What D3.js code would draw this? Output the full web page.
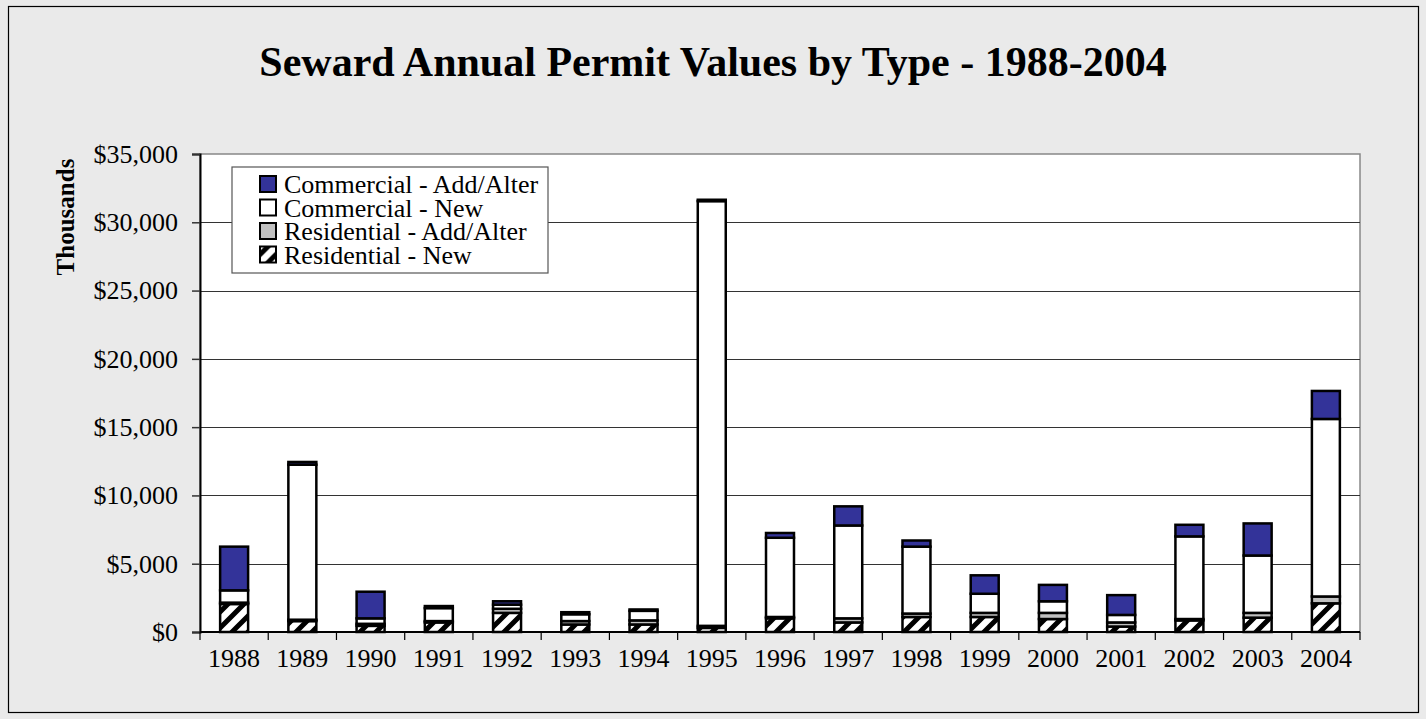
<!DOCTYPE html>
<html>
<head>
<meta charset="utf-8">
<script src="https://cdn.jsdelivr.net/npm/d3@7"></script>
<style>
  html, body { margin: 0; padding: 0; background: #eaeaea; }
  svg { display: block; }
</style>
</head>
<body>
<div id="chart"></div>
<script>
const width = 1426;
const height = 719;

// values in $ thousands
const years = ["1988", "1989", "1990", "1991", "1992", "1993", "1994", "1995", "1996",
  "1997", "1998", "1999", "2000", "2001", "2002", "2003", "2004"];
const resNew = [2050, 800, 450, 700, 1400, 550, 550, 300, 1000, 700, 1100, 1100, 950, 400, 850, 1050, 2100];
const resAdd = [100, 100, 150, 100, 300, 250, 300, 150, 100, 300, 250, 300, 450, 300, 100, 350, 500];
const comNew = [900, 11350, 400, 950, 300, 500, 700, 31100, 5800, 6800, 4900, 1400, 850, 550, 6050, 4200, 13000];
const comAdd = [3200, 200, 1950, 150, 250, 150, 100, 100, 350, 1400, 450, 1350, 1200, 1450, 850, 2350, 2050];
const yTicks = [0, 5000, 10000, 15000, 20000, 25000, 30000, 35000];

const series = [
  { key: "resNew", name: "Residential - New", fill: "url(#hatch)", values: resNew },
  { key: "resAdd", name: "Residential - Add/Alter", fill: "#c0c0c0", values: resAdd },
  { key: "comNew", name: "Commercial - New", fill: "#ffffff", values: comNew },
  { key: "comAdd", name: "Commercial - Add/Alter", fill: "#333399", values: comAdd }
];

const table = years.map((y, i) => {
  const row = { year: y };
  series.forEach(s => { row[s.key] = s.values[i]; });
  return row;
});

const stacked = d3.stack().keys(series.map(s => s.key))(table);

const margin = { top: 154, right: 66, bottom: 87, left: 200 };
const font = "'Liberation Serif', 'Times New Roman', serif";

const svg = d3.select("#chart")
  .append("svg")
  .attr("width", width)
  .attr("height", height);

const defs = svg.append("defs");
const pat = defs.append("pattern")
  .attr("id", "hatch")
  .attr("patternUnits", "userSpaceOnUse")
  .attr("width", 16)
  .attr("height", 16);
pat.append("rect").attr("width", 16).attr("height", 16).attr("fill", "#fff");
pat.append("path")
  .attr("d", "M-4,4 L4,-4 M0,16 L16,0 M12,20 L20,12")
  .attr("stroke", "#000")
  .attr("stroke-width", 5);

// outer frame
svg.append("rect")
  .attr("x", 8.5).attr("y", 6.5)
  .attr("width", 1410).attr("height", 706)
  .attr("fill", "#eaeaea")
  .attr("stroke", "#000")
  .attr("stroke-width", 1.2);

svg.append("text")
  .attr("x", 713)
  .attr("y", 76)
  .attr("text-anchor", "middle")
  .style("font-family", font)
  .style("font-weight", "bold")
  .style("font-size", "42px")
  .text("Seward Annual Permit Values by Type - 1988-2004");

const x = d3.scaleBand()
  .domain(years)
  .range([margin.left, width - margin.right])
  .paddingInner(0.59)
  .paddingOuter(0.295);

const y = d3.scaleLinear()
  .domain([0, 35000])
  .range([height - margin.bottom, margin.top]);

// plot area
svg.append("rect")
  .attr("x", margin.left)
  .attr("y", margin.top)
  .attr("width", width - margin.right - margin.left)
  .attr("height", y(0) - margin.top)
  .attr("fill", "#fff")
  .attr("stroke", "#888")
  .attr("stroke-width", 1.5);

// gridlines
svg.append("g")
  .selectAll("line")
  .data(yTicks.filter(d => d > 0 && d < 35000))
  .join("line")
  .attr("x1", margin.left)
  .attr("x2", width - margin.right)
  .attr("y1", d => Math.round(y(d)) + 0.5)
  .attr("y2", d => Math.round(y(d)) + 0.5)
  .attr("stroke", "#333")
  .attr("stroke-width", 1.2);

// y axis
const yAxis = svg.append("g")
  .attr("transform", `translate(${margin.left},0)`)
  .call(d3.axisLeft(y).tickValues(yTicks).tickSize(8).tickPadding(14)
    .tickFormat(d => "$" + d3.format(",")(d)));
yAxis.select(".domain").attr("stroke", "#000").attr("stroke-width", 2);
yAxis.selectAll(".tick line").attr("stroke", "#333").attr("stroke-width", 1.5);
yAxis.selectAll("text")
  .attr("fill", "#000")
  .style("font-family", font)
  .style("font-size", "26px");

svg.append("text")
  .attr("transform", "translate(74,217) rotate(-90)")
  .attr("text-anchor", "middle")
  .style("font-family", font)
  .style("font-weight", "bold")
  .style("font-size", "25px")
  .text("Thousands");

// x axis with ticks at category boundaries
const xg = svg.append("g");
xg.append("line")
  .attr("x1", margin.left).attr("x2", width - margin.right)
  .attr("y1", y(0)).attr("y2", y(0))
  .attr("stroke", "#000").attr("stroke-width", 2);
const bounds = d3.range(years.length + 1).map(i => margin.left + i * x.step());
xg.selectAll("line.tk")
  .data(bounds)
  .join("line")
  .attr("class", "tk")
  .attr("x1", d => d).attr("x2", d => d)
  .attr("y1", y(0)).attr("y2", y(0) + 8)
  .attr("stroke", "#000").attr("stroke-width", 1.2);
xg.selectAll("text")
  .data(years)
  .join("text")
  .attr("x", d => x(d) + x.bandwidth() / 2)
  .attr("y", y(0) + 35)
  .attr("text-anchor", "middle")
  .style("font-family", font)
  .style("font-size", "26px")
  .text(d => d);

// bars
svg.append("g")
  .selectAll("g")
  .data(stacked)
  .join("g")
  .attr("fill", (d, i) => series[i].fill)
  .selectAll("rect")
  .data(d => d)
  .join("rect")
  .attr("x", d => x(d.data.year))
  .attr("y", d => y(d[1]))
  .attr("width", x.bandwidth())
  .attr("height", d => y(d[0]) - y(d[1]))
  .attr("stroke", "#000")
  .attr("stroke-width", 2.5);

// legend
const lg = svg.append("g").attr("transform", "translate(232,167)");
lg.append("rect")
  .attr("width", 316)
  .attr("height", 106)
  .attr("fill", "#fff")
  .attr("stroke", "#555")
  .attr("stroke-width", 1.2);
const legendItems = series.slice().reverse();
const li = lg.selectAll("g.item")
  .data(legendItems)
  .join("g")
  .attr("class", "item")
  .attr("transform", (d, i) => `translate(28,${17 + i * 23.5})`);
li.append("rect")
  .attr("x", 0).attr("y", -8)
  .attr("width", 16).attr("height", 16)
  .attr("fill", d => d.fill)
  .attr("stroke", "#000")
  .attr("stroke-width", 2);
li.append("text")
  .attr("x", 24)
  .attr("y", 9)
  .style("font-family", font)
  .style("font-size", "26px")
  .text(d => d.name);
</script>
</body>
</html>
